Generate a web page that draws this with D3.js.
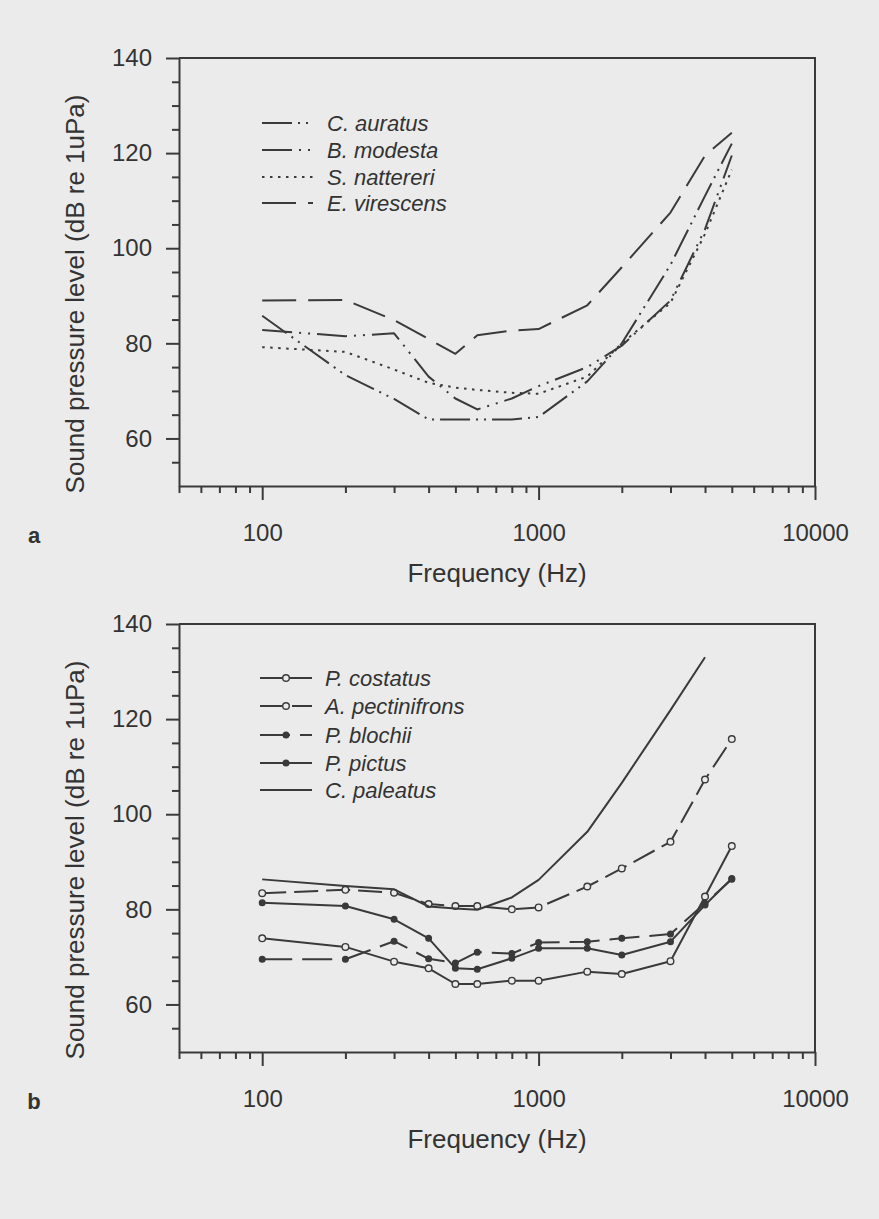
<!DOCTYPE html>
<html><head><meta charset="utf-8">
<script src="https://cdn.jsdelivr.net/npm/d3@7"></script>
<style>
html,body{margin:0;padding:0;background:#ebebeb;}
svg{display:block;}
text{font-family:"Liberation Sans", Arial, sans-serif; fill:#333;}
</style></head><body>
<svg id="chart" width="879" height="1219"></svg>
<script>
// ---------- data ----------
const freqs = [100, 200, 300, 400, 500, 600, 800, 1000, 1500, 2000, 3000, 4000, 5000];
const freqsPaleatus = [100, 200, 300, 400, 500, 600, 800, 1000, 1500, 2000, 3000, 4000];

// panel a
const cAuratus   = [85.8, 73.3, 68.3, 64.0, 64.0, 64.0, 64.0, 64.5, 72.0, 80.0, 96.5, 111.0, 122.0];
const bModesta   = [82.8, 81.5, 82.1, 73.0, 68.4, 66.1, 68.4, 71.0, 75.0, 79.5, 89.0, 104.0, 119.5];
const sNattereri = [79.2, 78.2, 74.5, 71.7, 70.7, 70.2, 69.6, 69.4, 73.0, 80.0, 88.5, 103.0, 116.5];
const eVirescens = [89.0, 89.1, 84.9, 80.9, 77.8, 81.7, 82.7, 83.0, 88.0, 96.0, 107.5, 119.5, 124.3];

// panel b
const pCostatus     = [73.9, 72.1, 69.0, 67.6, 64.3, 64.3, 65.0, 65.0, 66.9, 66.4, 69.1, 82.7, 93.3];
const aPectinifrons = [83.4, 84.1, 83.5, 81.1, 80.7, 80.7, 80.0, 80.4, 84.8, 88.6, 94.2, 107.3, 115.8];
const pBlochii      = [69.5, 69.5, 73.3, 69.6, 68.7, 71.0, 70.7, 73.0, 73.2, 73.9, 74.8, 81.3, 86.3];
const pPictus       = [81.4, 80.7, 77.9, 73.9, 67.6, 67.4, 69.7, 71.8, 71.8, 70.4, 73.2, 80.9, 86.5];
const cPaleatus     = [86.3, 84.9, 84.2, 80.6, 80.2, 79.9, 82.5, 86.2, 96.3, 106.6, 121.9, 133.0];

const yTickLabels = [60, 80, 100, 120, 140];
const yMinorTicks = [55, 65, 70, 75, 85, 90, 95, 105, 110, 115, 125, 130, 135];
const xTickLabels = [100, 1000, 10000];
const xMinorTicks = [50, 60, 70, 80, 90, 200, 300, 400, 500, 600, 700, 800, 900, 2000, 3000, 4000, 5000, 6000, 7000, 8000, 9000];

const yTitle = "Sound pressure level (dB re 1uPa)";
const xTitle = "Frequency (Hz)";

const seriesA = [
  {name: "C. auratus",   x: freqs, y: cAuratus,   dash: "30,6,2,6,2,6", marker: null},
  {name: "B. modesta",   x: freqs, y: bModesta,   dash: "30,7,2,7,2,7", marker: null},
  {name: "S. nattereri", x: freqs, y: sNattereri, dash: "2.5,5.5",     marker: null},
  {name: "E. virescens", x: freqs, y: eVirescens, dash: "34,12",       marker: null}
];
const seriesB = [
  {name: "P. costatus",     x: freqs, y: pCostatus,     dash: null,    marker: "open"},
  {name: "A. pectinifrons", x: freqs, y: aPectinifrons, dash: "24,8",  marker: "open"},
  {name: "P. blochii",      x: freqs, y: pBlochii,      dash: "30,10", marker: "filled"},
  {name: "P. pictus",       x: freqs, y: pPictus,       dash: null,    marker: "filled"},
  {name: "C. paleatus",     x: freqsPaleatus, y: cPaleatus, dash: null, marker: null}
];

// ---------- drawing ----------
const svg = d3.select("#chart");
const ink = "#3a3a3a";
const bg = "#ebebeb";
const left = 179, right = 815, panelH = 428;

const panels = [
  {top: 58,  letter: "a", series: seriesA, legendRows: [123, 150, 177, 203], legX0: 262, legX1: 313, legText: 327},
  {top: 624, letter: "b", series: seriesB, legendRows: [678, 706, 735, 763, 790], legX0: 260, legX1: 312, legText: 325}
];

panels.forEach(p => {
  const x = d3.scaleLog().domain([50, 10000]).range([left, right]);
  const y = d3.scaleLinear().domain([50, 140]).range([p.top + panelH, p.top]);
  const g = svg.append("g");
  const bottom = p.top + panelH;

  // frame (top + right)
  g.append("path")
    .attr("d", `M${left},${p.top}H${right}V${bottom}`)
    .attr("fill", "none").attr("stroke", ink).attr("stroke-width", 2);

  // left axis major
  const ay = g.append("g").attr("transform", `translate(${left},0)`)
    .call(d3.axisLeft(y).tickValues(yTickLabels).tickSize(13).tickSizeOuter(0).tickPadding(14).tickFormat(d3.format("d")));
  ay.select(".domain").attr("stroke", ink).attr("stroke-width", 2);
  ay.selectAll(".tick line").attr("stroke", ink).attr("stroke-width", 2);
  ay.selectAll(".tick text").attr("font-size", 24).attr("fill", "#333")
    .attr("font-family", "'Liberation Sans', Arial, sans-serif");
  // left axis minor
  const ayMinor = g.append("g").attr("transform", `translate(${left},0)`)
    .call(d3.axisLeft(y).tickValues(yMinorTicks).tickSize(7).tickSizeOuter(0).tickFormat(""));
  ayMinor.select(".domain").remove();
  ayMinor.selectAll(".tick line").attr("stroke", ink).attr("stroke-width", 2);

  // bottom axis major
  const ax = g.append("g").attr("transform", `translate(0,${bottom})`)
    .call(d3.axisBottom(x).tickValues(xTickLabels).tickSize(14).tickSizeOuter(0).tickPadding(24).tickFormat(d => String(d)));
  ax.select(".domain").attr("stroke", ink).attr("stroke-width", 2);
  ax.selectAll(".tick line").attr("stroke", ink).attr("stroke-width", 2);
  ax.selectAll(".tick text").attr("font-size", 24).attr("fill", "#333")
    .attr("font-family", "'Liberation Sans', Arial, sans-serif");
  const axMinor = g.append("g").attr("transform", `translate(0,${bottom})`)
    .call(d3.axisBottom(x).tickValues(xMinorTicks).tickSize(7).tickSizeOuter(0).tickFormat(""));
  axMinor.select(".domain").remove();
  axMinor.selectAll(".tick line").attr("stroke", ink).attr("stroke-width", 2);

  // titles
  g.append("text").attr("x", (left + right) / 2).attr("y", bottom + 96)
    .attr("text-anchor", "middle").attr("font-size", 26).text(xTitle);
  g.append("text")
    .attr("transform", `translate(84,${(p.top + bottom) / 2 + 22}) rotate(-90)`)
    .attr("text-anchor", "middle").attr("font-size", 26).text(yTitle);
  g.append("text").attr("x", 34).attr("y", bottom + 57)
    .attr("text-anchor", "middle").attr("font-size", 22).attr("font-weight", "bold").text(p.letter);

  // series
  const line = d3.line().x(d => x(d[0])).y(d => y(d[1]));
  p.series.forEach((s, i) => {
    const pts = s.x.map((f, k) => [f, s.y[k]]);
    g.append("path").datum(pts).attr("d", line)
      .attr("fill", "none").attr("stroke", ink).attr("stroke-width", 2)
      .attr("stroke-dasharray", s.dash).attr("stroke-linejoin", "round");
    if (s.marker) {
      g.selectAll(null).data(pts).enter().append("circle")
        .attr("cx", d => x(d[0])).attr("cy", d => y(d[1]))
        .attr("r", s.marker === "open" ? 3.3 : 2.8)
        .attr("fill", s.marker === "open" ? bg : ink)
        .attr("stroke", ink).attr("stroke-width", 1.4);
    }
    // legend
    const ly = p.legendRows[i];
    g.append("line").attr("x1", p.legX0).attr("x2", p.legX1).attr("y1", ly).attr("y2", ly)
      .attr("stroke", ink).attr("stroke-width", 2).attr("stroke-dasharray", s.dash);
    if (s.marker) {
      g.append("circle").attr("cx", (p.legX0 + p.legX1) / 2).attr("cy", ly)
        .attr("r", s.marker === "open" ? 3.3 : 2.8)
        .attr("fill", s.marker === "open" ? bg : ink)
        .attr("stroke", ink).attr("stroke-width", 1.4);
    }
    g.append("text").attr("x", p.legText).attr("y", ly).attr("dy", "0.35em")
      .attr("font-size", 22).attr("font-style", "italic").text(s.name);
  });
});
</script>
</body></html>
